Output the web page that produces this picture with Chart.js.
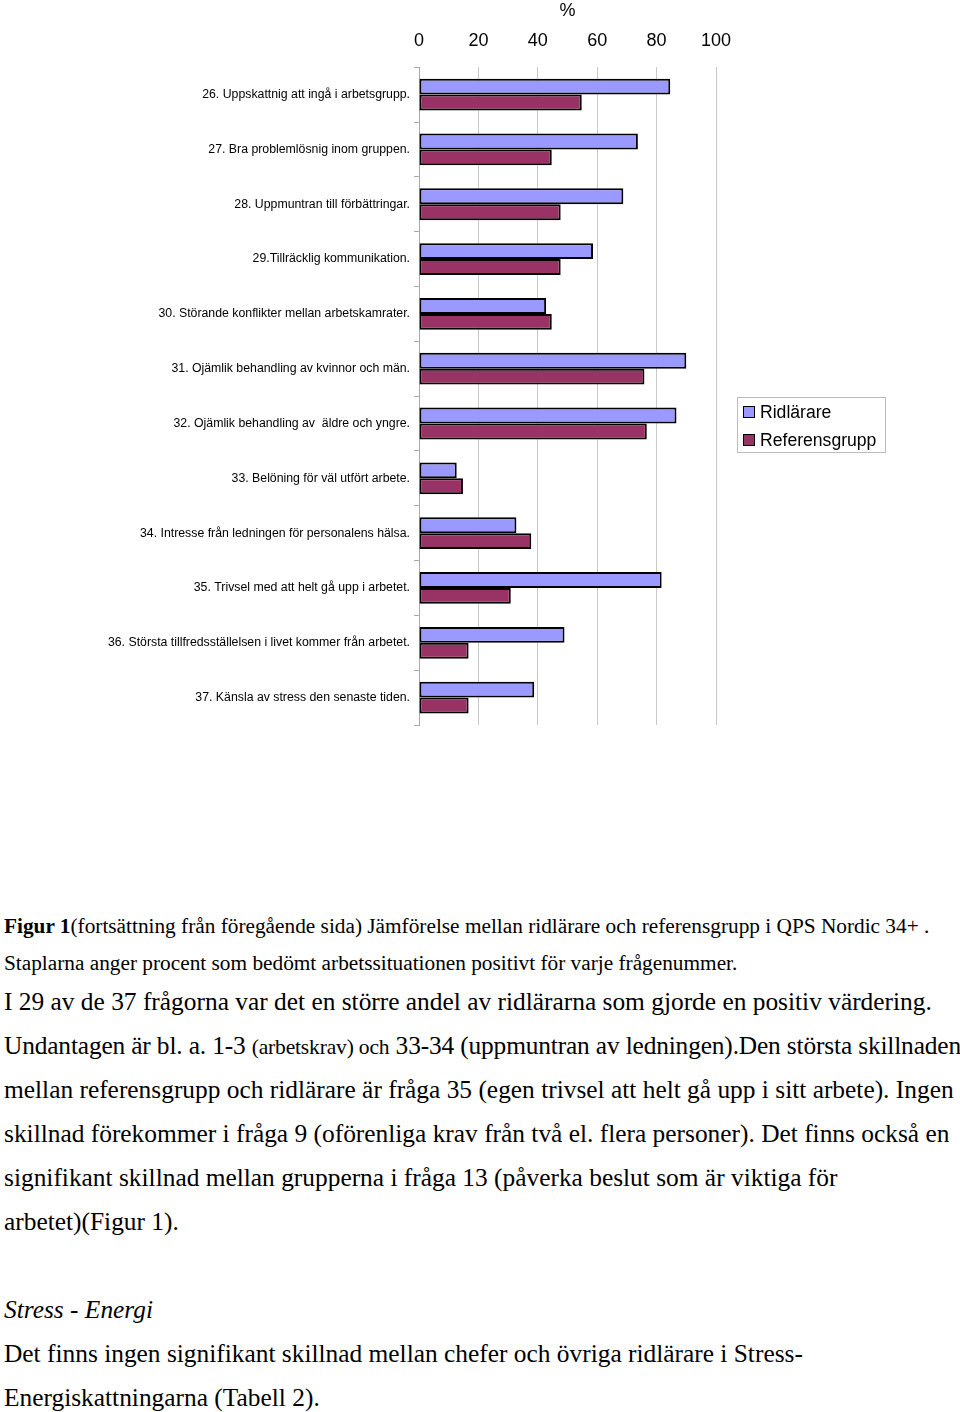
<!DOCTYPE html>
<html>
<head>
<meta charset="utf-8">
<script src="https://cdn.jsdelivr.net/npm/chart.js@4.4.0/dist/chart.umd.min.js"></script>
<style>
  body { margin: 0; background: #fff; width: 960px; height: 1412px; position: relative; overflow: hidden; }
  #wrap { position: absolute; left: 0; top: 0; width: 960px; height: 740px; }
  #legend { position: absolute; left: 737px; top: 397px; width: 149px; height: 56px; border: 1px solid #bbb;
            font-family: "Liberation Sans", Arial, sans-serif; font-size: 17.6px; color: #000; box-sizing: border-box; }
  #legend div { position: absolute; left: 5px; white-space: nowrap; }
  #legend span.sw { display: inline-block; width: 10px; height: 10px; border: 1.5px solid #000; margin-right: 5px; vertical-align: 0px; }
  .txt { position: absolute; left: 4px; white-space: nowrap; font-family: "Liberation Serif", "Times New Roman", serif; color: #000; }
  .small { font-size: 21.3px; }
  .big { font-size: 25.4px; }
  .mid { font-size: 21.5px; }
</style>
</head>
<body>
<div id="wrap"><canvas id="chart"></canvas></div>
<div id="legend"></div>

<div class="txt small" style="top:914px"><b>Figur 1</b>(fortsättning från föregående sida) Jämförelse mellan ridlärare och referensgrupp i QPS Nordic 34+ .</div>
<div class="txt small" style="top:951px">Staplarna anger procent som bedömt arbetssituationen positivt för varje frågenummer.</div>
<div class="txt big" style="top:987px">I 29 av de 37 frågorna var det en större andel av ridlärarna som gjorde en positiv värdering.</div>
<div class="txt big" style="top:1031px; letter-spacing:-0.16px">Undantagen är bl. a. 1-3 <span class="mid">(arbetskrav) och</span> 33-34 (uppmuntran av ledningen).Den största skillnaden</div>
<div class="txt big" style="top:1075px">mellan referensgrupp och ridlärare är fråga 35 (egen trivsel att helt gå upp i sitt arbete). Ingen</div>
<div class="txt big" style="top:1119px">skillnad förekommer i fråga 9 (oförenliga krav från två el. flera personer). Det finns också en</div>
<div class="txt big" style="top:1163px">signifikant skillnad mellan grupperna i fråga 13 (påverka beslut som är viktiga för</div>
<div class="txt big" style="top:1207px">arbetet)(Figur 1).</div>
<div class="txt big" style="top:1295px"><i>Stress - Energi</i></div>
<div class="txt big" style="top:1339px">Det finns ingen signifikant skillnad mellan chefer och övriga ridlärare i Stress-</div>
<div class="txt big" style="top:1383px">Energiskattningarna (Tabell 2).</div>

<script>
const questions = [
  '26. Uppskattnig att ingå i arbetsgrupp.',
  '27. Bra problemlösnig inom gruppen.',
  '28. Uppmuntran till förbättringar.',
  '29.Tillräcklig kommunikation.',
  '30. Störande konflikter mellan arbetskamrater.',
  '31. Ojämlik behandling av kvinnor och män.',
  '32. Ojämlik behandling av  äldre och yngre.',
  '33. Belöning för väl utfört arbete.',
  '34. Intresse från ledningen för personalens hälsa.',
  '35. Trivsel med att helt gå upp i arbetet.',
  '36. Största tillfredsställelsen i livet kommer från arbetet.',
  '37. Känsla av stress den senaste tiden.'
];
const ridlarare = [84.6, 73.7, 68.8, 58.6, 42.8, 90, 86.7, 12.7, 32.8, 81.7, 49, 38.8];
const referensgrupp = [54.8, 44.7, 47.7, 47.7, 44.7, 75.9, 76.7, 14.8, 37.8, 30.9, 16.7, 16.7];
const percentTicks = [0, 20, 40, 60, 80, 100];

const ctx = document.getElementById('chart').getContext('2d');
const chart = new Chart(ctx, {
  type: 'bar',
  data: {
    labels: questions,
    datasets: [{
      label: 'Ridlärare',
      data: ridlarare,
      backgroundColor: '#9999ff',
      borderColor: '#000',
      borderWidth: 2,
      borderSkipped: false
    }, {
      label: 'Referensgrupp',
      data: referensgrupp,
      backgroundColor: '#993366',
      borderColor: '#000',
      borderWidth: 2,
      borderSkipped: false
    }]
  },
  options: {
    indexAxis: 'y',
    responsive: true,
    maintainAspectRatio: false,
    animation: false,
    categoryPercentage: 0.58,
    barPercentage: 1.0,
    layout: { padding: { top: 0, right: 244, bottom: 15, left: 0 } },
    plugins: {
      legend: { display: false },
      tooltip: { enabled: false }
    },
    scales: {
      x: {
        position: 'top',
        min: 0,
        max: 100,
        afterBuildTicks: (axis) => { axis.ticks = percentTicks.map(v => ({ value: v })); },
        title: { display: true, text: '%', color: '#000', font: { family: 'Liberation Sans', size: 18 }, padding: { top: 0, bottom: -6 } },
        ticks: { color: '#000', font: { family: 'Liberation Sans', size: 18 }, padding: 15 },
        grid: { color: '#c8c8c8', lineWidth: 1, drawTicks: false },
        border: { display: false }
      },
      y: {
        afterFit: (axis) => { axis.width = 419; },
        ticks: { color: '#000', font: { family: 'Liberation Sans', size: 12.3 }, padding: 4 },
        grid: { drawOnChartArea: false, drawTicks: true, tickLength: 5, color: '#aaa', offset: true },
        border: { display: true, color: '#aaa', width: 1 }
      }
    }
  }
});

// legend as html, built from the datasets
const legendEl = document.getElementById('legend');
chart.data.datasets.forEach((ds, i) => {
  const row = document.createElement('div');
  row.style.top = (4 + i * 28) + 'px';
  row.innerHTML = '<span class="sw" style="background:' + ds.backgroundColor + '"></span>' + ds.label;
  legendEl.appendChild(row);
});
</script>
</body>
</html>
